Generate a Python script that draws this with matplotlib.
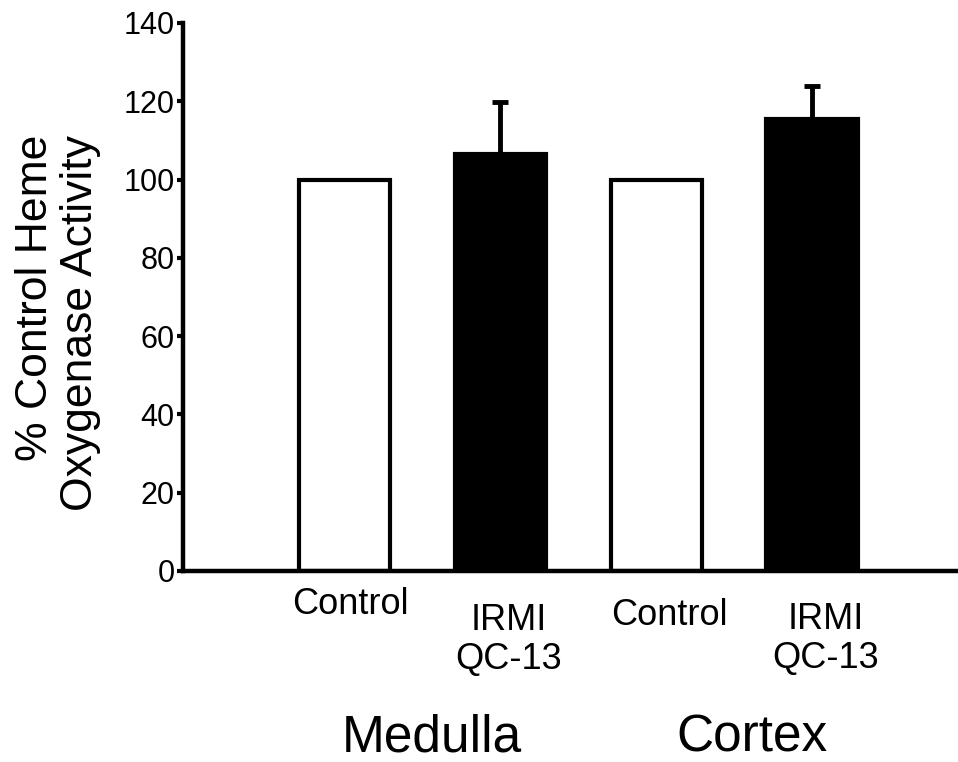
import matplotlib
matplotlib.use('Agg')
import matplotlib.pyplot as plt
import numpy as np

plt.rcParams['font.family'] = ['Liberation Sans', 'DejaVu Sans']

# data
labels = ['Control', 'IRMI\nQC-13', 'Control', 'IRMI\nQC-13']
groups = ['Medulla', 'Cortex']
values = [100, 106.5, 100, 115.5]
errors = [0, 13.3, 0, 8.5]
colors = ['white', 'black', 'white', 'black']

pos = np.arange(1, len(values) + 1)

fig = plt.figure(figsize=(9.58, 7.62), dpi=100)
ax = fig.add_axes([183 / 958, 191 / 762, 775 / 958, 548 / 762])

ax.bar(pos, values, width=0.585, color=colors, edgecolor='black', linewidth=3, zorder=2)
err_pos = [p for p, e in zip(pos, errors) if e > 0]
err_val = [v for v, e in zip(values, errors) if e > 0]
err_up = [e for e in errors if e > 0]
ax.errorbar(err_pos, err_val, yerr=[np.zeros(len(err_up)), err_up], fmt='none',
            ecolor='black', elinewidth=3.5, capsize=6, capthick=3.5, zorder=3)

ax.set_xlim(-0.0366, 4.937)
ax.set_ylim(0, 140)
ax.set_yticks(np.arange(0, 141, 20))
ax.tick_params(axis='y', direction='out', length=4, width=3, labelsize=22, pad=2)
ax.set_xticks([])
for s in ['top', 'right']:
    ax.spines[s].set_visible(False)
ax.spines['left'].set_linewidth(3.2)
ax.spines['bottom'].set_linewidth(3.2)

# category labels under the bars (offsets in pixels as in the reference)
dx = [5.5, 8, 13, 14]
dy = [16, 32, 27, 31]
for p, lab, ox, oy in zip(pos, labels, dx, dy):
    ax.annotate(lab, xy=(p, 0), xycoords=('data', 'axes fraction'),
                xytext=(ox * 0.72, -oy * 0.72), textcoords='offset points',
                ha='center', va='top', fontsize=26, linespacing=1.15)

fig.text(432 / 958, 1 - 751 / 762, groups[0], ha='center', va='baseline', fontsize=37)
fig.text(752 / 958, 1 - 751 / 762, groups[1], ha='center', va='baseline', fontsize=37)

fig.text(58 / 958, 1 - 323 / 762, '% Control Heme\nOxygenase Activity', rotation=90,
         ha='center', va='center', multialignment='right', fontsize=32, linespacing=1.12)

fig.savefig('out.png', dpi=100)
